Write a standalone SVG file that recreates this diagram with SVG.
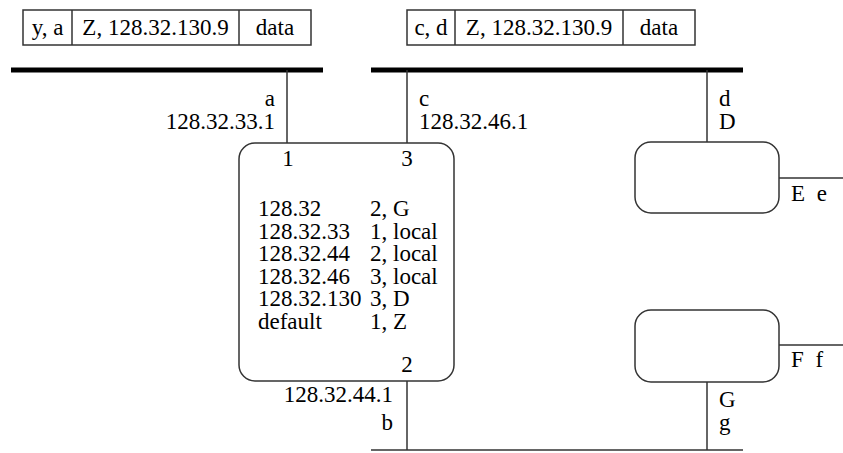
<svg xmlns="http://www.w3.org/2000/svg" width="843" height="453" viewBox="0 0 843 453" font-family="Liberation Serif, Times New Roman, serif">
<style>
text { font-size: 23px; fill: #000; }
.thin { stroke: #333; stroke-width: 1.5; fill: none; }
.box { stroke: #333; stroke-width: 1.5; fill: #fff; }
.net { stroke: #000; stroke-width: 5; }
.r { text-anchor: end; }
.m { text-anchor: middle; }
.ws { word-spacing: 6px; }
</style>
<g id="packet1">
  <rect class="box" x="23" y="10" width="288" height="35"/>
  <line class="thin" x1="72" y1="10" x2="72" y2="45"/>
  <line class="thin" x1="239" y1="10" x2="239" y2="45"/>
  <text class="m" x="47.5" y="35">y, a</text>
  <text class="m" x="155.5" y="35">Z, 128.32.130.9</text>
  <text class="m" x="275" y="35">data</text>
</g>
<g id="packet2">
  <rect class="box" x="407" y="10" width="288" height="35"/>
  <line class="thin" x1="455" y1="10" x2="455" y2="45"/>
  <line class="thin" x1="623" y1="10" x2="623" y2="45"/>
  <text class="m" x="431" y="35">c, d</text>
  <text class="m" x="539" y="35">Z, 128.32.130.9</text>
  <text class="m" x="659" y="35">data</text>
</g>
<g id="net-left">
  <line class="net" x1="11" y1="70" x2="323" y2="70"/>
</g>
<g id="net-right">
  <line class="net" x1="371" y1="70" x2="743" y2="70"/>
</g>
<g id="net-bottom">
  <line class="thin" x1="371" y1="450" x2="743" y2="450"/>
</g>
<g id="connectors">
  <line class="thin" x1="287" y1="70" x2="287" y2="143"/>
  <line class="thin" x1="407" y1="70" x2="407" y2="143"/>
  <line class="thin" x1="707" y1="70" x2="707" y2="142"/>
  <line class="thin" x1="407" y1="381" x2="407" y2="450"/>
  <line class="thin" x1="707" y1="382" x2="707" y2="450"/>
  <line class="thin" x1="779" y1="178" x2="843" y2="178"/>
  <line class="thin" x1="779" y1="345" x2="843" y2="345"/>
</g>
<g id="labels">
  <text class="r" x="275" y="106">a</text>
  <text class="r" x="275" y="129">128.32.33.1</text>
  <text x="419" y="106">c</text>
  <text x="419" y="129">128.32.46.1</text>
  <text x="719" y="106">d</text>
  <text x="719" y="129">D</text>
  <text class="r" x="393" y="402">128.32.44.1</text>
  <text class="r" x="393" y="430">b</text>
  <text class="ws" x="791" y="201">E e</text>
  <text class="ws" x="791" y="367">F f</text>
  <text x="719" y="407">G</text>
  <text x="719" y="430">g</text>
</g>
<g id="router">
  <rect class="box" x="239" y="143" width="215" height="238" rx="16" ry="16"/>
  <text class="m" x="288" y="166">1</text>
  <text class="m" x="407" y="166">3</text>
  <text class="m" x="407" y="372">2</text>
  <text x="258" y="216">128.32</text>
  <text x="370" y="216">2, G</text>
  <text x="258" y="238.5">128.32.33</text>
  <text x="370" y="238.5">1, local</text>
  <text x="258" y="261">128.32.44</text>
  <text x="370" y="261">2, local</text>
  <text x="258" y="283.5">128.32.46</text>
  <text x="370" y="283.5">3, local</text>
  <text x="258" y="306">128.32.130</text>
  <text x="370" y="306">3, D</text>
  <text x="258" y="328.5">default</text>
  <text x="370" y="328.5">1, Z</text>
</g>
<g id="hostE">
  <rect class="box" x="635" y="142" width="144" height="71" rx="16" ry="16"/>
</g>
<g id="hostF">
  <rect class="box" x="635" y="310" width="144" height="72" rx="16" ry="16"/>
</g>
</svg>
